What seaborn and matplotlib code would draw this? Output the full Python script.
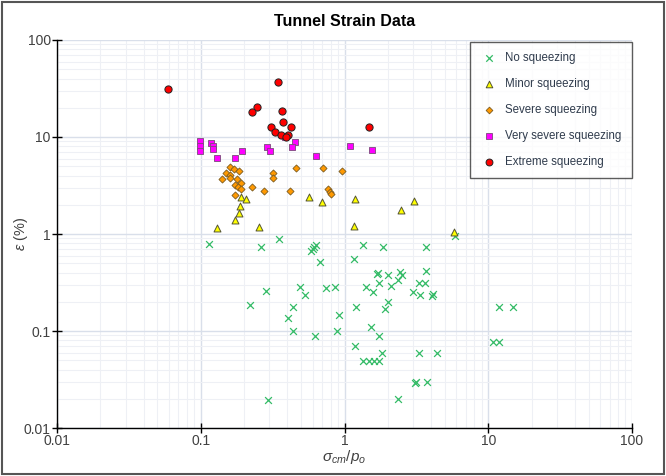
import matplotlib
matplotlib.use("Agg")
import matplotlib.pyplot as plt
import matplotlib.ticker as mticker
from matplotlib.patches import Rectangle
import seaborn as sns
import pandas as pd
import numpy as np

sns.set_theme(style="white")
plt.rcParams['font.family'] = ['Liberation Sans', 'DejaVu Sans']
plt.rcParams['mathtext.fontset'] = 'custom'
plt.rcParams['mathtext.it'] = 'Liberation Sans:italic'
plt.rcParams['mathtext.rm'] = 'Liberation Sans'

# ---- data (x = sigma_cm / p_o, y = strain %) ----
no_x = [0.115, 0.262, 0.348, 0.58, 0.60, 0.615, 0.635, 0.678, 1.17, 0.283, 0.219, 0.487,
        0.533, 0.435, 0.404, 0.435, 0.626, 0.742, 0.857, 0.919, 0.885, 1.19, 1.2, 0.294,
        1.34, 1.85, 3.69, 1.69, 1.72, 2.0, 2.45, 2.5, 2.34, 3.69, 1.75, 2.09, 1.40, 1.59,
        3.28, 3.65, 3.01, 3.36, 4.05, 4.15, 2.0, 1.92, 1.53, 1.75, 1.82, 1.34, 1.47, 1.60,
        1.75, 3.31, 4.38, 3.08, 3.14, 3.75, 2.34, 11.9, 14.9, 10.7, 11.9, 5.9]
no_y = [0.794, 0.74, 0.888, 0.67, 0.70, 0.73, 0.77, 0.51, 0.55, 0.258, 0.187, 0.286,
        0.235, 0.177, 0.137, 0.099, 0.088, 0.275, 0.284, 0.146, 0.099, 0.0695, 0.177, 0.0196,
        0.77, 0.74, 0.74, 0.39, 0.40, 0.378, 0.409, 0.378, 0.336, 0.416, 0.315, 0.293, 0.282, 0.254,
        0.315, 0.315, 0.254, 0.235, 0.232, 0.238, 0.198, 0.168, 0.109, 0.089, 0.06, 0.049, 0.049, 0.049,
        0.049, 0.06, 0.06, 0.0293, 0.0299, 0.0296, 0.0197, 0.178, 0.178, 0.0776, 0.0776, 0.96]

minor_x = [0.19, 0.205, 0.187, 0.184, 0.174, 0.13, 0.254, 0.565, 0.692, 1.19, 1.17, 2.48, 3.06, 5.74]
minor_y = [2.39, 2.28, 1.96, 1.66, 1.39, 1.16, 1.19, 2.39, 2.15, 2.3, 1.22, 1.77, 2.2, 1.04]

severe_x = [0.159, 0.170, 0.185, 0.149, 0.160, 0.160, 0.141, 0.179, 0.191, 0.174, 0.182, 0.189,
            0.229, 0.274, 0.172, 0.318, 0.318, 0.457, 0.42, 0.711, 0.766, 0.787, 0.80, 0.964]
severe_y = [4.94, 4.64, 4.5, 4.29, 4.06, 3.8, 3.66, 3.66, 3.33, 3.2, 3.03, 2.89,
            3.03, 2.79, 2.52, 4.22, 3.8, 4.83, 2.79, 4.83, 2.89, 2.73, 2.58, 4.5]

vsevere_x = [0.0995, 0.0995, 0.0995, 0.117, 0.122, 0.122, 0.129, 0.174, 0.193, 0.29, 0.301,
             0.45, 0.431, 0.635, 1.1, 1.56, 0.385]
vsevere_y = [9.1, 8.1, 7.2, 8.6, 8.1, 7.6, 6.1, 6.1, 7.2, 7.8, 7.2,
             8.9, 7.8, 6.4, 8.1, 7.35, 9.9]

extreme_x = [0.059, 0.344, 0.246, 0.226, 0.367, 0.375, 0.306, 0.427, 0.327, 0.361, 0.407, 0.39, 1.49]
extreme_y = [31, 37, 20.5, 18.2, 18.5, 14.4, 12.8, 12.8, 11.2, 10.6, 10.6, 10.1, 12.8]

x_ticks = [0.01, 0.1, 1, 10, 100]
x_tick_labels = ["0.01", "0.1", "1", "10", "100"]
y_ticks = [0.01, 0.1, 1, 10, 100]
y_tick_labels = ["0.01", "0.1", "1", "10", "100"]

groups = [
    ("No squeezing", no_x, no_y, dict(marker="x", color="#33bb66", s=24, linewidth=0.9)),
    ("Minor squeezing", minor_x, minor_y, dict(marker="^", color="#ffff00", edgecolor="#555533", s=25, linewidth=0.7)),
    ("Severe squeezing", severe_x, severe_y, dict(marker="D", color="#ff9900", edgecolor="#7a5a20", s=13, linewidth=0.6)),
    ("Very severe squeezing", vsevere_x, vsevere_y, dict(marker="s", color="#ff00ff", edgecolor="#7a4a7a", s=24, linewidth=0.6)),
    ("Extreme squeezing", extreme_x, extreme_y, dict(marker="o", color="#ff0000", edgecolor="#222222", s=27, linewidth=0.7)),
]

fig = plt.figure(figsize=(6.66, 4.76), dpi=100)
ax = fig.add_axes([0.0856, 0.1008, 0.8634, 0.8152])

for name, xs, ys, kw in groups:
    df = pd.DataFrame({"x": xs, "y": ys})
    sns.scatterplot(data=df, x="x", y="y", ax=ax, label=name, zorder=3, **kw)

ax.set_xscale("log")
ax.set_yscale("log")
ax.set_xlim(0.01, 100)
ax.set_ylim(0.01, 100)

ax.xaxis.set_major_locator(mticker.FixedLocator(x_ticks))
ax.xaxis.set_major_formatter(mticker.FixedFormatter(x_tick_labels))
ax.yaxis.set_major_locator(mticker.FixedLocator(y_ticks))
ax.yaxis.set_major_formatter(mticker.FixedFormatter(y_tick_labels))
ax.xaxis.set_minor_locator(mticker.LogLocator(base=10, subs=np.arange(2, 10)))
ax.yaxis.set_minor_locator(mticker.LogLocator(base=10, subs=np.arange(2, 10)))
ax.xaxis.set_minor_formatter(mticker.NullFormatter())
ax.yaxis.set_minor_formatter(mticker.NullFormatter())

ax.grid(which="major", color="#d9dfea", linewidth=1.0, zorder=0)
ax.grid(which="minor", color="#eef0f5", linewidth=0.8, zorder=0)
ax.set_axisbelow(True)

for side in ["top", "right"]:
    ax.spines[side].set_visible(False)
for side in ["left", "bottom"]:
    ax.spines[side].set_color("#000000")
    ax.spines[side].set_linewidth(1.0)

ax.tick_params(which="major", direction="inout", length=7, width=1.0, color="#000000",
               labelsize=10, labelcolor="#404040", bottom=True, left=True, pad=1)
ax.tick_params(which="minor", length=0)

ax.set_xlabel(r"$\sigma_{cm}/p_o$", fontsize=11, color="#404040", labelpad=0)
ax.set_ylabel(r"$\varepsilon$ (%)", fontsize=10.5, color="#404040")
ax.yaxis.set_label_coords(-0.047, 0.5)
ax.set_title("Tunnel Strain Data", fontsize=11.5, fontweight="bold", color="#000000", pad=10)

leg = ax.legend(loc="upper right", bbox_to_anchor=(1.0, 0.995), frameon=True, fancybox=False,
                edgecolor="#333333", fontsize=8.3, labelspacing=1.2, markerscale=0.95,
                handlelength=1.6, handletextpad=0.6, borderpad=0.9, borderaxespad=0.0)
leg.get_frame().set_linewidth(1.0)
for t in leg.get_texts():
    t.set_color("#2f3b4c")

fig.patches.append(Rectangle((0.003, 0.004), 0.994, 0.992, transform=fig.transFigure,
                             fill=False, edgecolor="#555555", linewidth=1.5))

fig.savefig("out.png", dpi=100)
